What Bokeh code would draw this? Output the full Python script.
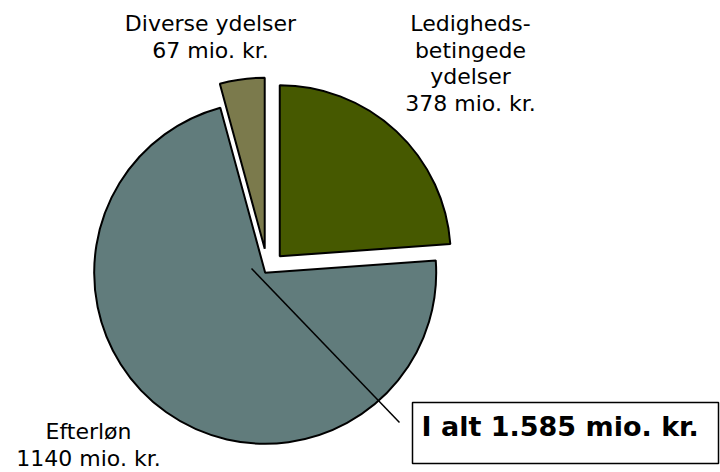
import math
from bokeh.plotting import figure
from bokeh.models import Range1d, ColumnDataSource
from bokeh.embed import file_html
from bokeh.resources import INLINE
from bokeh.core.properties import value

# ---- data ----
categories = ["Ledighedsbetingede ydelser", "Efterløn", "Diverse ydelser"]
values = [378, 1140, 67]
name_lines = [["Ledigheds-", "betingede", "ydelser"], ["Efterløn"], ["Diverse ydelser"]]
unit = "mio. kr."
colors = ["#465900", "#617C7C", "#7B7A4C"]

total = sum(values)
total_label = "I alt " + f"{total:,}".replace(",", ".") + " " + unit

# ---- layout (figure pixels, y up) ----
W, H = 720, 472
cx, cy = 267, 203
R = 171
explode = [18, 4, 21]
label_pos = [(470, 449), (88, 41), (210, 449)]   # centre x, y of first line
line_step = 26.5

p = figure(width=W, height=H, x_range=Range1d(0, W), y_range=Range1d(0, H),
           output_backend="svg", toolbar_location=None, min_border=0,
           x_axis_type=None, y_axis_type=None)
p.grid.visible = False
p.outline_line_color = None
p.background_fill_color = "white"

# slices, clockwise from 12 o'clock
xs, ys, starts, ends = [], [], [], []
cum = 0
for v, e in zip(values, explode):
    a0 = math.pi / 2 - 2 * math.pi * cum / total
    a1 = math.pi / 2 - 2 * math.pi * (cum + v) / total
    mid = (a0 + a1) / 2
    xs.append(cx + e * math.cos(mid))
    ys.append(cy + e * math.sin(mid))
    starts.append(a1)
    ends.append(a0)
    cum += v

src = ColumnDataSource(dict(x=xs, y=ys, start=starts, end=ends, color=colors, cat=categories))
p.wedge(x="x", y="y", radius=R, start_angle="start", end_angle="end", source=src,
        fill_color="color", line_color="black", line_width=2)

# labels
tx, ty, tt = [], [], []
for (lx, ly), names, v in zip(label_pos, name_lines, values):
    lines = names + [f"{v} {unit}"]
    for i, t in enumerate(lines):
        tx.append(lx)
        ty.append(ly - i * line_step)
        tt.append(t)
p.text(x=tx, y=ty, text=tt, text_font=value("DejaVu Sans"), text_font_size="22px",
       text_align="center", text_baseline="alphabetic", text_color="black")

# leader line + total box
p.line(x=[251, 399], y=[204, 50], line_color="black", line_width=1.5)
p.quad(left=[412], right=[718], top=[70], bottom=[9], fill_color="white",
       line_color="black", line_width=1.5)
p.text(x=[421], y=[46], text=[total_label], text_font=value("DejaVu Sans"),
       text_font_size="27px", text_font_style="bold", text_align="left",
       text_baseline="alphabetic", text_color="black")

open("out.html", "w").write(file_html(p, INLINE))
